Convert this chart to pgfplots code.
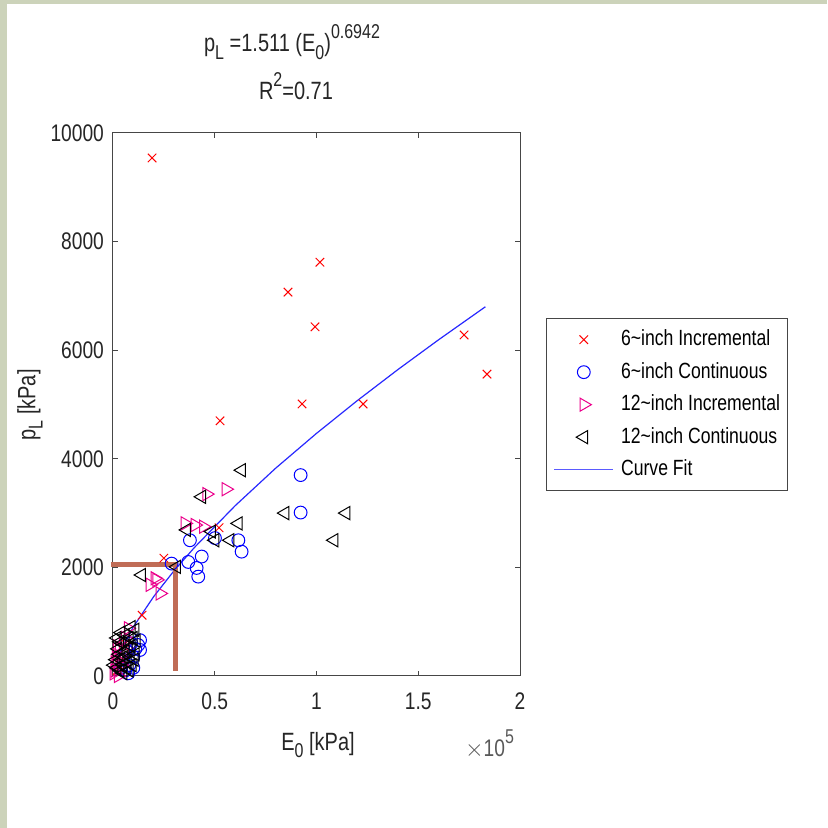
\documentclass[border=0pt]{standalone}
\usepackage{fontspec}
\setmainfont{Liberation Sans}[FakeStretch=0.8]
\usepackage{pgfplots}
\pgfplotsset{compat=1.18}
\definecolor{bord}{RGB}{204,211,186}
\definecolor{brn}{RGB}{192,108,86}
\definecolor{axgray}{RGB}{70,70,70}
\definecolor{fitblue}{RGB}{40,40,255}
\definecolor{legblue}{RGB}{90,90,255}
\newcommand\msub[1]{\raisebox{-0.55ex}{\fontsize{10}{10}\selectfont #1}}
\newcommand\msup[1]{\raisebox{1.0ex}{\fontsize{10}{10}\selectfont #1}}
\begin{document}
\begin{tikzpicture}[x=1pt,y=1pt]
\fill[bord] (-56.5,-76) rectangle (357,338);
\fill[white] (-53,-76) rectangle (357,336);
\useasboundingbox (-56.5,-76) rectangle (357,338);
\begin{axis}[at={(0,0)}, anchor=south west, scale only axis,
  width=203.5pt, height=271.5pt,
  xmin=0, xmax=200000, ymin=0, ymax=10000,
  clip=false,
  axis line style={axgray, line width=0.5pt},
  tick style={axgray, line width=0.5pt},
  tick align=inside, major tick length=2.5pt,
  xtick={0,50000,100000,150000,200000},
  xticklabels={0,0.5,1,1.5,2},
  scaled x ticks=false, scaled y ticks=false,
  ytick={0,2000,4000,6000,8000,10000},
  yticklabel style={/pgf/number format/1000 sep={}, xshift=-1pt},
  /pgf/number format/assume math mode=true,
  ticklabel style={font=\fontsize{12}{13}\selectfont, text=black!85},
  xticklabel style={yshift=-4.75pt},
  legend style={at={(axis description cs:1.0639,0.659)}, anchor=north west,
    draw=axgray, line width=0.5pt, font=\fontsize{11}{12}\selectfont,
    inner xsep=3.5pt, inner ysep=5pt,
    nodes={inner sep=0pt, text height=8.5pt, text depth=2.5pt},
    row sep=5.25pt,
    /tikz/every odd column/.append style={column sep=3.5pt}},
  legend cell align=left,
  legend image code/.code={\draw[#1,mark repeat=2,mark phase=2] plot coordinates {(0pt,0pt)(14.75pt,0pt)(29.5pt,0pt)};},
]
\addplot[only marks, mark=x, mark size=3pt, color=red, mark options={line width=0.5pt}] coordinates {
(19200,9540) (86000,7070) (101700,7620) (99300,6430) (92900,5010)
(52600,4700) (122900,5010) (172500,6280) (183800,5560) (52100,2730)
(25000,2170) (14300,1120) (5000,300) (3000,200) (8000,450) (6000,600) (2000,100)
};
\addlegendentry{6\textasciitilde inch Incremental}
\addplot[only marks, mark=o, mark size=3.2pt, color=blue, mark options={line width=0.5pt}] coordinates {
(92200,3700) (92200,3010) (28800,2070) (37800,2500) (43600,2200)
(41100,1990) (41900,1830) (61600,2500) (63200,2290) (37000,2100)
(50100,2540) (12400,570) (13300,660) (13300,480)
(5000,300) (7000,450) (8000,200) (10000,350) (6000,100) (11000,500)
(9000,600) (4000,150) (7500,50) (10000,150)
};
\addlegendentry{6\textasciitilde inch Continuous}
\addplot[only marks, mark=triangle, mark size=3.8pt, color=magenta, mark options={rotate=-90, line width=0.5pt}] coordinates {
(55500,3440) (46000,3350) (35400,2810) (40300,2780) (44400,2750)
(20600,1800) (23100,1520) (18200,1680) (21500,1770) (7400,880)
(1000,100) (2000,300) (3000,500) (500,50) (4000,200) (2500,0)
(1500,400) (5000,600) (3500,350) (6000,700) (1000,250) (2000,550)
};
\addlegendentry{12\textasciitilde inch Incremental}
\addplot[only marks, mark=triangle, mark size=3.8pt, color=black, mark options={rotate=90, line width=0.5pt}] coordinates {
(84500,3000) (114500,3000) (108600,2500) (63200,3790) (43600,3300)
(61600,2810) (36200,2690) (48500,2660) (50100,2500) (57500,2500)
(31300,2010) (14100,1860) (10800,850) (3400,630)
(500,200) (2000,150) (4000,300) (6000,450) (8000,100) (7000,250)
(9000,550) (10000,700) (5000,50) (3000,400) (8500,350) (11000,400)
(1500,300) (2500,500) (3500,100) (4500,600) (5500,350) (6500,150)
(7500,500) (8000,700) (9500,200) (10500,300) (11500,650) (2000,700)
(4000,800) (6000,750) (9000,900) (5000,200)
};
\addlegendentry{12\textasciitilde inch Continuous}
\addplot[fitblue, line width=0.6pt,
  legend image code/.code={\pgfsetstrokecolor{legblue}\pgfsetlinewidth{0.8pt}\pgfpathmoveto{\pgfpoint{0pt}{0pt}}\pgfpathlineto{\pgfpoint{29.5pt}{0pt}}\pgfusepath{stroke}}] coordinates {
(500,113) (1000,183) (2000,296) (5000,559) (10000,904) (20000,1463)
(30000,1938) (40000,2366) (60000,3135) (80000,3829) (100000,4468)
(120000,5070) (140000,5643) (160000,6192) (183000,6800)
};
\addlegendentry{Curve Fit}
\addplot[color=brn, line width=2.5pt, forget plot] coordinates {
(-1000,2057) (30600,2057) (30600,98)
};
\end{axis}
\node[font=\fontsize{12.5}{14}\selectfont, text=black!85] at (89.5,317)
  {p\msub{L} =1.511 (E\msub{0})\msup{0.6942}};
\node[font=\fontsize{12.5}{14}\selectfont, text=black!85] at (91.5,295)
  {R\msup{2}=0.71};
\node[font=\fontsize{12.5}{14}\selectfont, text=black!85, rotate=90] at (-41.5,135.5)
  {p\msub{L} [kPa]};
\node[font=\fontsize{12.5}{14}\selectfont, text=black!85] at (102.5,-34.5)
  {E\msub{0} [kPa]};
\node[font=\fontsize{12}{13}\selectfont, text=black!65, anchor=east] at (204,-34)
  {$\times$10\msup{5}};
\end{tikzpicture}
\end{document}
